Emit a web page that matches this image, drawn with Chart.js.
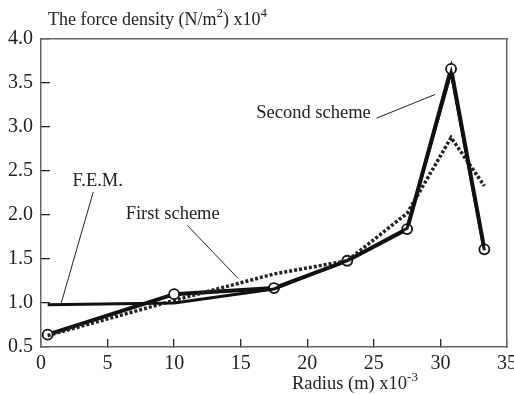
<!DOCTYPE html>
<html>
<head>
<meta charset="utf-8">
<script src="https://cdn.jsdelivr.net/npm/chart.js@4.4.1/dist/chart.umd.min.js"></script>
<style>
  html, body { margin: 0; padding: 0; background: #fff; }
  #wrap { width: 514px; height: 394px; }
</style>
</head>
<body>
<div id="wrap"><canvas id="c" width="514" height="394"></canvas></div>
<script>
// Radius (m) x10^-3 and force density (N/m^2) x10^4
var radius       = [0.5, 10, 17.5, 23, 27.5, 30.8, 33.3];
var femValues    = [0.98, 1.00, 1.16, 1.48, 1.85, 3.62, 1.60];
var firstScheme  = [0.63, 1.03, 1.33, 1.48, 2.02, 2.88, 2.33];
var secondScheme = [0.64, 1.10, 1.17, 1.48, 1.84, 3.66, 1.61];
var xTicks = [0, 5, 10, 15, 20, 25, 30, 35];
var yTicks = [0.5, 1.0, 1.5, 2.0, 2.5, 3.0, 3.5, 4.0];

var SERIF = '"Liberation Serif", "DejaVu Serif", serif';
var AXIS_COLOR = '#666';

function pts(ys) {
  return radius.map(function (x, i) { return { x: x, y: ys[i] }; });
}

// labels with leader lines, anchored in data units
var callouts = [
  { text: 'F.E.M.',        tx: 4.26,  ty: 2.39, from: [3.92, 2.26], to: [1.5, 0.99] },
  { text: 'First scheme',  tx: 9.89,  ty: 2.01, from: [11.0, 1.88], to: [14.8, 1.28] },
  { text: 'Second scheme', tx: 20.47, ty: 3.16, from: [25.2, 3.10], to: [29.6, 3.37] }
];

function drawSup(ctx, parts, x, y, size) {
  // parts: [text, isSup]
  parts.forEach(function (p) {
    if (p[1]) {
      ctx.font = '13px ' + SERIF;
      ctx.fillText(p[0], x, y - 8);
    } else {
      ctx.font = size + 'px ' + SERIF;
      ctx.fillText(p[0], x, y);
    }
    x += ctx.measureText(p[0]).width;
  });
}

var decor = {
  id: 'decor',
  afterDraw: function (chart) {
    var ctx = chart.ctx;
    var xs = chart.scales.x, ys = chart.scales.y;
    ctx.save();
    ctx.setLineDash([]);
    ctx.strokeStyle = '#222';
    ctx.lineWidth = 1;
    ctx.fillStyle = '#222';
    ctx.font = '18.5px ' + SERIF;
    ctx.textAlign = 'center';
    ctx.textBaseline = 'middle';
    callouts.forEach(function (c) {
      ctx.fillText(c.text, xs.getPixelForValue(c.tx), ys.getPixelForValue(c.ty));
      ctx.beginPath();
      ctx.moveTo(xs.getPixelForValue(c.from[0]), ys.getPixelForValue(c.from[1]));
      ctx.lineTo(xs.getPixelForValue(c.to[0]), ys.getPixelForValue(c.to[1]));
      ctx.stroke();
    });

    // axis titles
    ctx.textAlign = 'left';
    ctx.textBaseline = 'alphabetic';
    drawSup(ctx, [['The force density (N/m', false], ['2', true], [') x10', false], ['4', true]], 48, 25, 18);
    drawSup(ctx, [['Radius (m) x10', false], ['-3', true]], 292, 389, 18.5);
    ctx.restore();
  }
};

function fixTicks(list) {
  return function (s) { s.ticks = list.map(function (v) { return { value: v }; }); };
}

new Chart(document.getElementById('c'), {
  type: 'scatter',
  data: {
    datasets: [
      {
        label: 'F.E.M.',
        data: pts(femValues),
        showLine: true,
        borderColor: '#111',
        borderWidth: 3,
        pointRadius: 0
      },
      {
        label: 'First scheme',
        data: pts(firstScheme),
        showLine: true,
        borderColor: '#222',
        borderWidth: 3.5,
        borderDash: [3, 2],
        pointRadius: 0
      },
      {
        label: 'Second scheme',
        data: pts(secondScheme),
        showLine: true,
        borderColor: '#111',
        borderWidth: 4,
        pointRadius: 5,
        pointBorderWidth: 1.8,
        pointBorderColor: '#111',
        pointBackgroundColor: '#fff'
      }
    ]
  },
  options: {
    responsive: false,
    animation: false,
    layout: { padding: { top: 39, right: 7, left: 0, bottom: 0 } },
    plugins: { legend: { display: false }, tooltip: { enabled: false } },
    scales: {
      x: {
        type: 'linear', position: 'bottom', min: 0, max: 35,
        afterBuildTicks: fixTicks(xTicks),
        afterFit: function (s) { s.height = 47; s.paddingLeft = 0; s.paddingRight = 0; },
        grid: { display: true, drawOnChartArea: false, drawTicks: true, tickLength: -8, color: '#222', lineWidth: 1.3 },
        border: { display: true, color: AXIS_COLOR, width: 1.5 },
        ticks: { color: '#222', padding: 13, maxRotation: 0, font: { family: SERIF, size: 20 } }
      },
      y: {
        type: 'linear', position: 'left', min: 0.5, max: 4.0,
        afterBuildTicks: fixTicks(yTicks),
        afterFit: function (s) { s.width = 41; s.paddingTop = 0; s.paddingBottom = 0; },
        grid: { display: true, drawOnChartArea: false, drawTicks: true, tickLength: -9, color: '#222', lineWidth: 1.3 },
        border: { display: true, color: AXIS_COLOR, width: 1.5 },
        ticks: {
          color: '#222', padding: 17, font: { family: SERIF, size: 20 },
          callback: function (v) { return v.toFixed(1); }
        }
      },
      xTop: {
        type: 'linear', position: 'top', min: 0, max: 35,
        afterFit: function (s) { s.height = 0; s.paddingLeft = 0; s.paddingRight = 0; },
        grid: { display: false },
        border: { display: true, color: AXIS_COLOR, width: 1.5 },
        ticks: { display: false }
      },
      yRight: {
        type: 'linear', position: 'right', min: 0.5, max: 4.0,
        afterFit: function (s) { s.width = 0; s.paddingTop = 0; s.paddingBottom = 0; },
        grid: { display: false },
        border: { display: true, color: AXIS_COLOR, width: 1.5 },
        ticks: { display: false }
      }
    }
  },
  plugins: [decor]
});
</script>
</body>
</html>
